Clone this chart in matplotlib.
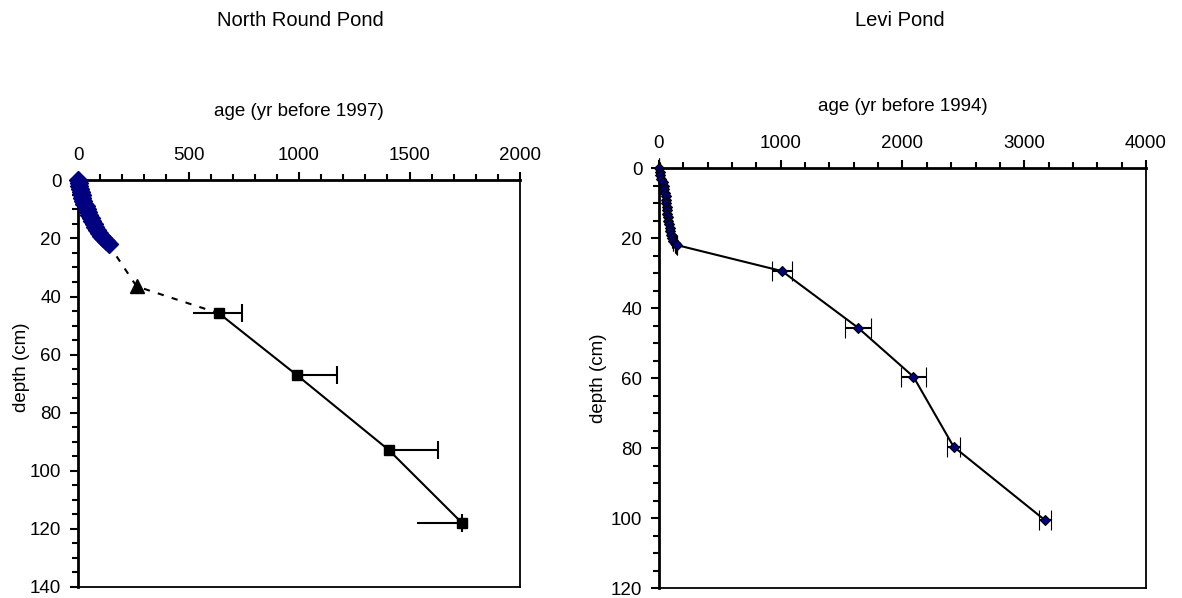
import matplotlib
matplotlib.use('Agg')
import matplotlib.pyplot as plt
import numpy as np
from matplotlib.ticker import MultipleLocator

plt.rcParams['font.family'] = ['Liberation Sans', 'DejaVu Sans']
FS = 13.5

# North Round Pond: 210Pb dated section (navy diamonds)
nr_pb_age = [0, 3, 6, 9, 12, 16, 20, 24, 29, 34, 39, 45, 51, 57, 64, 71, 79, 87, 96, 105, 115, 126, 138]
nr_pb_depth = [0, 1, 2, 3, 4, 5, 6, 7, 8, 9, 10, 11, 12, 13, 14, 15, 16, 17, 18, 19, 20, 21, 22]
# interpolated marker (triangle) and dashed link
nr_link_age = [138, 265, 638]
nr_link_depth = [22, 36.5, 45.8]
# radiocarbon dates (squares)
nr_c14_age = [638, 991, 1407, 1738]
nr_c14_depth = [45.8, 67.1, 92.9, 118]
nr_err_minus = [120, 0, 0, 204]
nr_err_plus = [102, 181, 222, 0]

# Levi Pond
lv_age = [0, 5, 12, 20, 30, 38, 45, 50, 54, 57, 60, 63, 66, 70, 74, 78, 83, 88, 94, 100, 108, 118, 131, 142, 150,
          1010, 1635, 2090, 2420, 3170]
lv_depth = [0, 1, 2, 3, 4, 5, 6, 7, 8, 9, 10, 11, 12, 13, 14, 15, 16, 17, 18, 19, 20, 20.7, 21.3, 21.8, 22,
            29.4, 45.6, 59.6, 79.6, 100.6]
lv_err = [0] * 25 + [80, 105, 100, 55, 50]


def style_axes(ax, xmax, xmajor, xminor, ymax, xlabel, xpad):
  ax.set_xlim(0, xmax)
  ax.set_ylim(ymax, 0)
  ax.xaxis.set_major_locator(MultipleLocator(xmajor))
  ax.xaxis.set_minor_locator(MultipleLocator(xminor))
  ax.yaxis.set_major_locator(MultipleLocator(20))
  ax.yaxis.set_minor_locator(MultipleLocator(5))
  ax.xaxis.tick_top()
  ax.xaxis.set_label_position('top')
  ax.tick_params(which='both', direction='out', width=1.5, labelsize=FS, top=True, bottom=False,
                 left=True, right=False)
  ax.tick_params(which='major', length=6, pad=6)
  ax.tick_params(which='minor', length=4)
  for side in ('top', 'left'):
    ax.spines[side].set_linewidth(2)
  for side in ('bottom', 'right'):
    ax.spines[side].set_linewidth(1.3)
  ax.set_xlabel(xlabel, fontsize=FS, labelpad=xpad)
  ax.set_ylabel('depth (cm)', fontsize=FS)
  for lab in ax.get_xticklabels() + ax.get_yticklabels():
    lab.set_clip_on(False)


fig = plt.figure(figsize=(11.82, 5.98), dpi=100)

# left panel
ax1 = fig.add_axes([0.066, 0.0184, 0.374, 0.680])
ax1.plot(nr_link_age, nr_link_depth, color='black', linestyle=(0, (3, 4)), linewidth=1.5, zorder=2)
ax1.plot(nr_link_age[1], nr_link_depth[1], marker='^', color='black', markersize=10, zorder=4)
ax1.errorbar(nr_c14_age, nr_c14_depth, xerr=[nr_err_minus, nr_err_plus], color='black', linewidth=1.5,
             marker='s', markersize=7, elinewidth=1.5, capsize=0, zorder=3)
ax1.plot(np.add(nr_c14_age, nr_err_plus), nr_c14_depth, linestyle='none', marker='|', color='black',
         markersize=13, markeredgewidth=1.5, zorder=3)
ax1.plot(nr_pb_age, nr_pb_depth, linestyle='none', marker='D', color='#000080', markersize=9,
         clip_on=False, zorder=5)
style_axes(ax1, 2000, 500, 100, 140, 'age (yr before 1997)', 22)
ax1.yaxis.set_label_coords(-0.108, 0.54)

# right panel
ax2 = fig.add_axes([0.5575, 0.0167, 0.412, 0.702])
ax2.errorbar(lv_age, lv_depth, xerr=lv_err, color='black', linewidth=1.5, marker='D', markersize=5,
             markerfacecolor='#000080', markeredgecolor='black', markeredgewidth=0.8,
             elinewidth=1.5, capsize=7, capthick=1.5, clip_on=False, zorder=3)
style_axes(ax2, 4000, 1000, 200, 120, 'age (yr before 1994)', 17)
ax2.yaxis.set_label_coords(-0.106, 0.5)

fig.text(0.254, 0.965, 'North Round Pond', ha='center', va='center', fontsize=FS + 1)
fig.text(0.761, 0.965, 'Levi Pond', ha='center', va='center', fontsize=FS + 1)

fig.savefig('out.png', dpi=100)
